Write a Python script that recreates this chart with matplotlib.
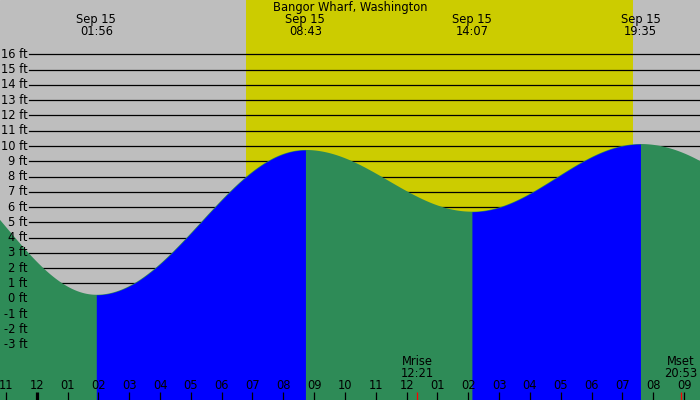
import numpy as np
import pandas as pd
import matplotlib
matplotlib.use("Agg")
import matplotlib.pyplot as plt
import matplotlib.transforms as mtransforms

# ---------------- data ----------------
title = "Bangor Wharf, Washington"
# tide extremes (first and last are off-chart estimates for the curve ends)
tide_times = ["2023-09-14 20:00", "2023-09-15 01:56", "2023-09-15 08:43",
              "2023-09-15 14:07", "2023-09-15 19:35", "2023-09-16 04:06"]
tide_heights = [9.32, 0.26, 9.74, 5.70, 10.13, 1.0]
labelled = [1, 2, 3, 4]          # extremes that get a top label
sunrise = "2023-09-15 06:47"
sunset = "2023-09-15 19:20"
moon_events = ["Mrise", "Mset"]
moon_times = ["2023-09-15 12:21", "2023-09-15 20:53"]
ft_levels = list(range(-3, 17))
hour_ticks = list(range(-1, 22))
hour_labels = ["11", "12", "01", "02", "03", "04", "05", "06", "07", "08", "09",
               "10", "11", "12", "01", "02", "03", "04", "05", "06", "07", "08", "09"]
day0 = pd.Timestamp("2023-09-15 00:00")

# ---------------- styling ----------------
GRAY = "#BEBEBE"
YELLOW = "#CCCC00"
BLUE = "#0000FF"
GREEN = "#2E8B57"
FS = 8.3
plt.rcParams["font.family"] = ["DejaVu Sans"]


def hrs(s):
    return (pd.Timestamp(s) - day0) / pd.Timedelta(hours=1)


th = np.array([hrs(t) for t in tide_times])
tv = np.array(tide_heights)

fig = plt.figure(figsize=(7, 4), dpi=100)
ax = fig.add_axes([0, 0, 1, 1])
XMIN, XMAX = -1.190, 21.515
YMIN, YMAX = -6.63, 19.56
ax.set_xlim(XMIN, XMAX)
ax.set_ylim(YMIN, YMAX)
ax.axis("off")
ax.add_patch(plt.Rectangle((0, 0), 1, 1, transform=ax.transAxes, color=GRAY, zorder=0))

# daylight
ax.axvspan(hrs(sunrise), hrs(sunset), color=YELLOW, zorder=1, lw=0)

# grid lines
for lv in ft_levels:
    ax.axhline(lv, xmin=29 / 700, xmax=1, color="black", lw=0.9, zorder=2)

# tide curve (cosine between extremes)
seg_t, seg_v = [], []
for i in range(len(th) - 1):
    t0, t1, v0, v1 = th[i], th[i + 1], tv[i], tv[i + 1]
    t = np.linspace(t0, t1, 400)
    v = v0 + (v1 - v0) * (1 - np.cos(np.pi * (t - t0) / (t1 - t0))) / 2
    seg_t.append(t)
    seg_v.append(v)
all_t = np.concatenate(seg_t)
all_v = np.concatenate(seg_v)
# falling water everywhere in green, rising parts overlaid in blue
ax.fill_between(all_t, YMIN - 1, all_v, color=GREEN, lw=0, zorder=3)
for i in range(len(th) - 1):
    if tv[i + 1] > tv[i]:
        ax.fill_between(seg_t[i], YMIN - 1, seg_v[i], color=BLUE, lw=0, zorder=4)

blend = mtransforms.blended_transform_factory(ax.transAxes, ax.transData)
blend_x = mtransforms.blended_transform_factory(ax.transData, ax.transAxes)

# ft labels
for lv in ft_levels:
    ax.text(27.5 / 700, lv, f"{lv} ft", transform=blend, ha="right", va="center",
            fontsize=FS, zorder=5)

# title
ax.text(0.5, 1 - 7.5 / 400, title, transform=ax.transAxes, ha="center", va="center",
        fontsize=FS, zorder=6)

# extreme labels
for i in labelled:
    ts = pd.Timestamp(tide_times[i])
    ax.text(th[i], 1 - 19.5 / 400, ts.strftime("%b %d").replace(" 0", " "),
            transform=blend_x, ha="center", va="center", fontsize=FS, zorder=6)
    ax.text(th[i], 1 - 31.5 / 400, ts.strftime("%H:%M"), transform=blend_x,
            ha="center", va="center", fontsize=FS, zorder=6)

# hour ticks and labels
for h, lab in zip(hour_ticks, hour_labels):
    ax.text(h, 14.5 / 400, lab, transform=blend_x, ha="center", va="center",
            fontsize=FS, zorder=6)
    lw = 2.3 if h == 0 else 0.9
    ax.plot([h, h], [0, 8 / 400], transform=blend_x, color="black", lw=lw,
            zorder=6, solid_capstyle="butt")

# moon events
for name, mt in zip(moon_events, moon_times):
    mh = hrs(mt)
    ax.plot([mh, mh], [0, 8 / 400], transform=blend_x, color="red", lw=0.9, zorder=6,
            solid_capstyle="butt")
    ax.text(mh, (400 - 361.5) / 400, name, transform=blend_x, ha="center",
            va="center", fontsize=FS, zorder=6)
    ax.text(mh, (400 - 373.5) / 400, pd.Timestamp(mt).strftime("%H:%M"),
            transform=blend_x, ha="center", va="center", fontsize=FS, zorder=6)

fig.savefig("out.png", dpi=100)
